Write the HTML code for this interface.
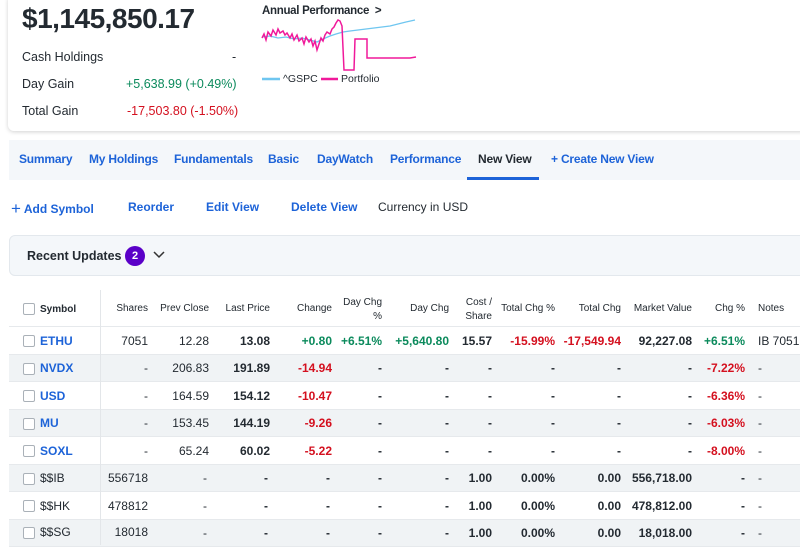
<!DOCTYPE html>
<html><head><meta charset="utf-8"><style>
*{margin:0;padding:0;box-sizing:border-box}
body{width:800px;height:545px;overflow:hidden;background:#fff;font-family:"Liberation Sans",sans-serif;color:#232a31;position:relative}
.a{position:absolute;white-space:nowrap}
.card{position:absolute;left:8px;top:-5px;width:800px;height:136px;background:#fff;border-radius:6px;box-shadow:0 1px 4px rgba(0,0,0,.18)}
.blue{color:#1d63d8}
.g{color:#0b8a5c}.r{color:#d4101f}
.row .g,.row .r{font-weight:bold}
.nav{position:absolute;left:9px;top:140px;width:800px;height:40px;background:#f4f7fa}
.nav span{position:absolute;top:12px;font-size:12px;font-weight:bold;color:#1d63d8;letter-spacing:-0.2px}
.ru{position:absolute;left:9px;top:235px;width:800px;height:41px;background:#f4f7fa;border:1px solid #e3e8ed;border-radius:6px}
.row{position:absolute;left:9px;width:791px;font-size:12px;border-bottom:1px solid #e6e9ec}
.row.gr{background:#f0f3f5}
.row div{position:absolute;white-space:nowrap;top:0}
.cb{position:absolute;left:14px;width:12px;height:12px;border:1px solid #aab1b8;border-radius:2px;background:#fff}
b{font-weight:bold}
</style></head><body>
<div class="card"></div>
<div class="a" style="left:22px;top:3px;font-size:28px;font-weight:bold;letter-spacing:-0.5px">$1,145,850.17</div>
<div class="a" style="left:22px;top:50px;font-size:12.5px">Cash Holdings</div>
<div class="a" style="left:232px;top:50px;font-size:12.5px">-</div>
<div class="a" style="left:22px;top:77px;font-size:12.5px">Day Gain</div>
<div class="a g" style="left:126px;top:77px;font-size:12.5px">+5,638.99 (+0.49%)</div>
<div class="a" style="left:22px;top:104px;font-size:12.5px">Total Gain</div>
<div class="a r" style="left:127px;top:104px;font-size:12.5px">-17,503.80 (-1.50%)</div>
<div class="a" style="left:262px;top:5px;font-size:11.5px;font-weight:bold;letter-spacing:-0.3px">Annual Performance &nbsp;&gt;</div>
<svg class="a" style="left:0;top:0" width="800" height="90">
<polyline fill="none" stroke="#6fc6f0" stroke-width="1.3" points="262,37 270,36 278,38 286,37 294,39 302,38 310,40 317,42 323,39 330,36 336,34 343,32 350,31 358,30 366,29 374,28 382,27 390,26 398,24 406,22 415,20"/>
<polyline fill="none" stroke="#f0199a" stroke-width="1.5" points="262,38 264,34 266,40 268,32 271,36 273,30 276,35 278,29 280,33 283,31 285,35 287,33 290,38 292,34 294,40 297,35 299,41 302,38 304,44 306,37 309,42 311,39 313,46 315,41 317,50 319,44 321,38 323,41 325,35 327,32 330,34 332,29 334,27 336,23 338,20 340,21 342,26 344,70 354,70 355,39 367,39 367,58 410,58 416,57"/>
<line x1="262" y1="79" x2="280" y2="79" stroke="#6fc6f0" stroke-width="2.5"/>
<line x1="321" y1="79" x2="338" y2="79" stroke="#f0199a" stroke-width="2.5"/>
</svg>
<div class="a" style="left:283px;top:73px;font-size:10.5px">^GSPC</div>
<div class="a" style="left:341px;top:73px;font-size:10.5px">Portfolio</div>

<div class="nav">
<span style="left:10px">Summary</span>
<span style="left:80px">My Holdings</span>
<span style="left:165px">Fundamentals</span>
<span style="left:259px">Basic</span>
<span style="left:308px">DayWatch</span>
<span style="left:381px">Performance</span>
<span style="left:469px;color:#232a31">New View</span>
<span style="left:542px">+ Create New View</span>
<div style="position:absolute;left:458px;top:37px;width:72px;height:3px;background:#1d63d8"></div>
</div>
<div class="a blue" style="left:11px;top:198px;font-size:12px;font-weight:bold"><span style="font-size:17px;font-weight:normal;position:relative;top:1px">+</span> Add Symbol</div>
<div class="a blue" style="left:128px;top:200px;font-size:12px;font-weight:bold">Reorder</div>
<div class="a blue" style="left:206px;top:200px;font-size:12px;font-weight:bold">Edit View</div>
<div class="a blue" style="left:291px;top:200px;font-size:12px;font-weight:bold">Delete View</div>
<div class="a" style="left:378px;top:200px;font-size:12px">Currency in USD</div>
<div class="ru"></div>
<div class="a" style="left:27px;top:249px;font-size:12.5px;font-weight:bold">Recent Updates</div>
<div class="a" style="left:125px;top:246px;width:20px;height:20px;border-radius:50%;background:#5a00c8;color:#fff;font-size:11px;font-weight:bold;text-align:center;line-height:20px">2</div>
<svg class="a" style="left:153px;top:251px" width="12" height="8"><polyline points="1,1 6,6 11,1" fill="none" stroke="#333" stroke-width="1.5"/></svg>
<div class="a" style="left:100px;top:290px;width:1px;height:255px;background:#e3e6e9;z-index:2"></div>

<div class="row" style="top:292px;height:35px;font-size:10px">
<div class="cb" style="top:11px"></div>
<div style="left:31px;top:12px;font-weight:bold">Symbol</div>
<div style="right:652px;top:11px">Shares</div>
<div style="right:591px;top:11px">Prev Close</div>
<div style="right:530px;top:11px">Last Price</div>
<div style="right:468px;top:11px">Change</div>
<div style="right:418px;top:4px;text-align:right;line-height:14px">Day Chg<br>%</div>
<div style="right:351px;top:11px">Day Chg</div>
<div style="right:308px;top:4px;text-align:right;line-height:14px">Cost /<br>Share</div>
<div style="right:245px;top:11px">Total Chg %</div>
<div style="right:179px;top:11px">Total Chg</div>
<div style="right:108px;top:11px">Market Value</div>
<div style="right:55px;top:11px">Chg %</div>
<div style="left:749px;top:11px">Notes</div>
</div>

<div class="row" style="top:327px;height:28px;line-height:28px">
<div class="cb" style="top:8px"></div><div class="blue" style="left:31px;font-weight:bold">ETHU</div>
<div style="right:652px">7051</div><div style="right:591px">12.28</div><div style="right:530px"><b>13.08</b></div>
<div class="g" style="right:468px">+0.80</div><div class="g" style="right:418px">+6.51%</div><div class="g" style="right:351px">+5,640.80</div>
<div style="right:308px"><b>15.57</b></div><div class="r" style="right:245px">-15.99%</div><div class="r" style="right:179px">-17,549.94</div>
<div style="right:108px"><b>92,227.08</b></div><div class="g" style="right:55px">+6.51%</div><div style="left:749px">IB 7051</div>
</div>

<div class="row gr" style="top:355px;height:27px;line-height:27px">
<div class="cb" style="top:8px"></div><div class="blue" style="left:31px;font-weight:bold">NVDX</div>
<div style="right:652px">-</div><div style="right:591px">206.83</div><div style="right:530px"><b>191.89</b></div>
<div class="r" style="right:468px">-14.94</div><div style="right:418px"><b>-</b></div><div style="right:351px"><b>-</b></div>
<div style="right:308px"><b>-</b></div><div style="right:245px"><b>-</b></div><div style="right:179px"><b>-</b></div>
<div style="right:108px"><b>-</b></div><div class="r" style="right:55px">-7.22%</div><div style="left:749px">-</div>
</div>

<div class="row" style="top:382px;height:28px;line-height:28px">
<div class="cb" style="top:8px"></div><div class="blue" style="left:31px;font-weight:bold">USD</div>
<div style="right:652px">-</div><div style="right:591px">164.59</div><div style="right:530px"><b>154.12</b></div>
<div class="r" style="right:468px">-10.47</div><div style="right:418px"><b>-</b></div><div style="right:351px"><b>-</b></div>
<div style="right:308px"><b>-</b></div><div style="right:245px"><b>-</b></div><div style="right:179px"><b>-</b></div>
<div style="right:108px"><b>-</b></div><div class="r" style="right:55px">-6.36%</div><div style="left:749px">-</div>
</div>

<div class="row gr" style="top:410px;height:27px;line-height:27px">
<div class="cb" style="top:8px"></div><div class="blue" style="left:31px;font-weight:bold">MU</div>
<div style="right:652px">-</div><div style="right:591px">153.45</div><div style="right:530px"><b>144.19</b></div>
<div class="r" style="right:468px">-9.26</div><div style="right:418px"><b>-</b></div><div style="right:351px"><b>-</b></div>
<div style="right:308px"><b>-</b></div><div style="right:245px"><b>-</b></div><div style="right:179px"><b>-</b></div>
<div style="right:108px"><b>-</b></div><div class="r" style="right:55px">-6.03%</div><div style="left:749px">-</div>
</div>

<div class="row" style="top:437px;height:28px;line-height:28px">
<div class="cb" style="top:8px"></div><div class="blue" style="left:31px;font-weight:bold">SOXL</div>
<div style="right:652px">-</div><div style="right:591px">65.24</div><div style="right:530px"><b>60.02</b></div>
<div class="r" style="right:468px">-5.22</div><div style="right:418px"><b>-</b></div><div style="right:351px"><b>-</b></div>
<div style="right:308px"><b>-</b></div><div style="right:245px"><b>-</b></div><div style="right:179px"><b>-</b></div>
<div style="right:108px"><b>-</b></div><div class="r" style="right:55px">-8.00%</div><div style="left:749px">-</div>
</div>

<div class="row gr" style="top:465px;height:27px;line-height:27px">
<div class="cb" style="top:8px"></div><div style="left:31px">$$IB</div>
<div style="right:652px">556718</div><div style="right:593px">-</div><div style="right:532px"><b>-</b></div>
<div style="right:470px"><b>-</b></div><div style="right:418px"><b>-</b></div><div style="right:351px"><b>-</b></div>
<div style="right:308px"><b>1.00</b></div><div style="right:245px"><b>0.00%</b></div><div style="right:179px"><b>0.00</b></div>
<div style="right:108px"><b>556,718.00</b></div><div style="right:55px"><b>-</b></div><div style="left:749px">-</div>
</div>

<div class="row" style="top:492px;height:28px;line-height:28px">
<div class="cb" style="top:8px"></div><div style="left:31px">$$HK</div>
<div style="right:652px">478812</div><div style="right:593px">-</div><div style="right:532px"><b>-</b></div>
<div style="right:470px"><b>-</b></div><div style="right:418px"><b>-</b></div><div style="right:351px"><b>-</b></div>
<div style="right:308px"><b>1.00</b></div><div style="right:245px"><b>0.00%</b></div><div style="right:179px"><b>0.00</b></div>
<div style="right:108px"><b>478,812.00</b></div><div style="right:55px"><b>-</b></div><div style="left:749px">-</div>
</div>

<div class="row gr" style="top:520px;height:27px;line-height:27px">
<div class="cb" style="top:7px"></div><div style="left:31px;top:-1px">$$SG</div>
<div style="right:652px;top:-1px">18018</div><div style="right:593px">-</div><div style="right:532px"><b>-</b></div>
<div style="right:470px"><b>-</b></div><div style="right:418px"><b>-</b></div><div style="right:351px"><b>-</b></div>
<div style="right:308px"><b>1.00</b></div><div style="right:245px"><b>0.00%</b></div><div style="right:179px"><b>0.00</b></div>
<div style="right:108px"><b>18,018.00</b></div><div style="right:55px"><b>-</b></div><div style="left:749px">-</div>
</div>
</body></html>
